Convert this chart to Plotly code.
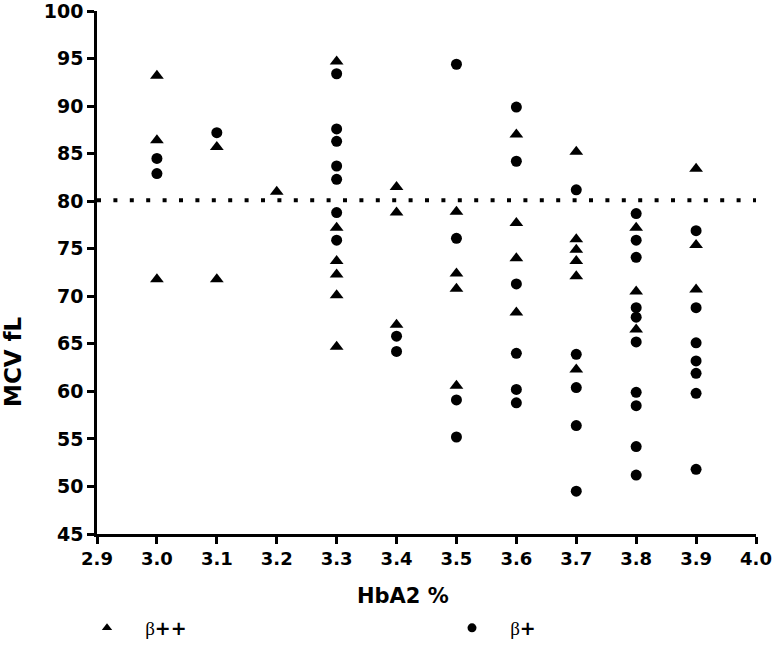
import plotly.graph_objects as go

# beta++ (triangles)
bpp_x = [3.0, 3.0, 3.0,
         3.1, 3.1,
         3.2,
         3.3, 3.3, 3.3, 3.3, 3.3, 3.3,
         3.4, 3.4, 3.4,
         3.5, 3.5, 3.5, 3.5,
         3.6, 3.6, 3.6, 3.6,
         3.7, 3.7, 3.7, 3.7, 3.7, 3.7,
         3.8, 3.8, 3.8,
         3.9, 3.9, 3.9]
bpp_y = [93.2, 86.4, 71.8,
         85.7, 71.8,
         81.0,
         94.7, 77.2, 73.7, 72.3, 70.1, 64.7,
         81.5, 78.8, 67.0,
         78.9, 72.4, 70.8, 60.6,
         87.0, 77.7, 74.0, 68.3,
         85.2, 76.0, 74.9, 73.7, 72.1, 62.3,
         77.2, 70.5, 66.5,
         83.4, 75.4, 70.7]

# beta+ (circles)
bp_x = [3.0, 3.0,
        3.1,
        3.3, 3.3, 3.3, 3.3, 3.3, 3.3, 3.3,
        3.4, 3.4,
        3.5, 3.5, 3.5, 3.5,
        3.6, 3.6, 3.6, 3.6, 3.6, 3.6,
        3.7, 3.7, 3.7, 3.7, 3.7,
        3.8, 3.8, 3.8, 3.8, 3.8, 3.8, 3.8, 3.8, 3.8, 3.8,
        3.9, 3.9, 3.9, 3.9, 3.9, 3.9, 3.9]
bp_y = [84.5, 82.9,
        87.2,
        93.4, 87.6, 86.3, 83.7, 82.3, 78.8, 75.9,
        65.8, 64.2,
        94.4, 76.1, 59.1, 55.2,
        89.9, 84.2, 71.3, 64.0, 60.2, 58.8,
        81.2, 63.9, 60.4, 56.4, 49.5,
        78.7, 75.9, 74.1, 68.8, 67.8, 65.2, 59.9, 58.5, 54.2, 51.2,
        76.9, 68.8, 65.1, 63.2, 61.9, 59.8, 51.8]

cutoff = 80.1
x_ticks = [2.9, 3.0, 3.1, 3.2, 3.3, 3.4, 3.5, 3.6, 3.7, 3.8, 3.9, 4.0]
y_ticks = [45, 50, 55, 60, 65, 70, 75, 80, 85, 90, 95, 100]

FONT = "DejaVu Sans"
NB = "\u00a0"

fig = go.Figure()
fig.add_trace(go.Scatter(x=bpp_x, y=bpp_y, mode="markers", showlegend=False,
                         marker=dict(symbol="triangle-up", size=12, color="black")))
fig.add_trace(go.Scatter(x=bp_x, y=bp_y, mode="markers", showlegend=False,
                         marker=dict(symbol="circle", size=11, color="black")))
# legend entries
fig.add_trace(go.Scatter(x=[None], y=[None], mode="markers",
                         name=NB * 3 + '<span style="font-family:Liberation Serif;font-weight:normal">β</span><b>++</b>',
                         marker=dict(symbol="triangle-up", size=9, color="black")))
fig.add_trace(go.Scatter(x=[None], y=[None], mode="markers",
                         name=NB * 3 + '<span style="font-family:Liberation Serif;font-weight:normal">β</span><b>+</b>',
                         marker=dict(symbol="circle", size=9, color="black")))

fig.add_shape(type="line", xref="x", yref="y", x0=x_ticks[0], x1=x_ticks[-1],
              y0=cutoff, y1=cutoff,
              line=dict(color="black", width=4, dash="4px,12.4px"))

fig.update_xaxes(range=[2.9, 4.0], tickvals=x_ticks, ticktext=[f"{v:.1f}" for v in x_ticks],
                 showline=True, linecolor="black", linewidth=2.5,
                 ticks="outside", ticklen=7, tickwidth=2.5, tickcolor="black",
                 showgrid=False, zeroline=False, automargin=False,
                 ticklabeloverflow="allow",
                 tickfont=dict(family=FONT, size=18, color="black", weight="bold"))
fig.update_yaxes(range=[45, 100], tickvals=y_ticks,
                 showline=True, linecolor="black", linewidth=2.5,
                 ticks="outside", ticklen=7, tickwidth=2.5, tickcolor="black",
                 showgrid=False, zeroline=False, automargin=False,
                 ticklabeloverflow="allow",
                 tickfont=dict(family=FONT, size=19, color="black", weight="bold"))

fig.add_annotation(text="<b>HbA2 %</b>", xref="paper", yref="paper",
                   x=(403 - 97) / 659, y=(534 - 596) / 523, xanchor="center", yanchor="middle",
                   showarrow=False, font=dict(family=FONT, size=21, color="black"))
fig.add_annotation(text="<b>MCV fL</b>", xref="paper", yref="paper", textangle=-90,
                   x=(13 - 97) / 659, y=(534 - 362) / 523, xanchor="center", yanchor="middle",
                   showarrow=False, font=dict(family=FONT, size=23, color="black"))

fig.update_layout(
    width=774, height=654,
    margin=dict(l=97, r=18, t=11, b=120, autoexpand=False),
    paper_bgcolor="white", plot_bgcolor="white",
    legend=dict(orientation="h", x=(87 - 97) / 659, xanchor="left",
                y=(534 - 628) / 523, yanchor="middle",
                entrywidth=320, entrywidthmode="pixels",
                font=dict(family=FONT, size=19, color="black"),
                bgcolor="rgba(0,0,0,0)"),
)

fig.write_html("out.html", config={"displayModeBar": False},
               post_script="document.body.style.margin='0';document.body.style.overflow='hidden';")
